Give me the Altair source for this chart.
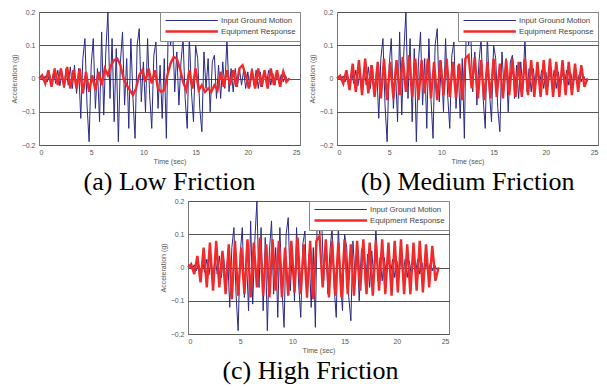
import altair as alt
import numpy as np
import pandas as pd

# ---------------- data ----------------
GROUND_STEP = 0.2
ground = [
    0.000, 0.003, -0.006, 0.008, -0.010, 0.012, -0.018, 0.020, -0.015, 0.025,
    -0.022, 0.018, -0.028, 0.030, -0.020, 0.035, -0.030, 0.040, -0.045, 0.030,
    -0.120, 0.060, 0.120, -0.080, -0.190, 0.040, 0.120, -0.090, 0.030, -0.130,
    0.140, -0.110, 0.080, 0.200, -0.060, 0.120, -0.130, 0.090, -0.190, 0.050,
    0.140, -0.080, 0.060, -0.150, 0.120, -0.060, -0.180, 0.100, 0.150, -0.070,
    0.050, -0.100, 0.120, -0.050, -0.150, 0.070, 0.110, -0.090, 0.040, -0.120,
    0.060, -0.180, 0.200, 0.100, 0.150, -0.040, 0.080, -0.080, 0.050, 0.120,
    -0.060, -0.150, 0.130, -0.040, -0.130, 0.100, 0.060, -0.090, -0.160, 0.080,
    -0.030, 0.060, -0.100, 0.050, 0.070, -0.060, 0.040, -0.060, 0.050, -0.030,
    0.120, -0.040, 0.030, -0.040, 0.030, -0.025, 0.030, -0.020, 0.025, -0.030,
    0.020, -0.025, 0.030, -0.020, 0.025, -0.030, 0.020, -0.025, 0.020, -0.015,
    0.025, -0.020, 0.015, -0.020, 0.015, -0.015, 0.012, -0.010, 0.010, -0.005,
    0.000,
]

RESP_STEP = 0.3
resp_low = [
    0.000, 0.010, -0.015, 0.025, -0.025, 0.030, -0.020, 0.030, -0.025, 0.035,
    -0.030, 0.025, -0.030, 0.030, -0.045, 0.020, -0.040, 0.010, -0.035, 0.020,
    -0.020, 0.030, 0.010, 0.040, 0.055, 0.060, 0.040, 0.000, -0.020, -0.035,
    -0.050, -0.030, 0.010, 0.025, -0.010, 0.030, -0.015, 0.025, -0.030, -0.040,
    -0.035, 0.010, 0.045, 0.065, 0.060, 0.030, -0.010, -0.035, 0.025, -0.030,
    0.030, -0.035, -0.020, -0.040, -0.030, -0.040, -0.020, -0.035, 0.020, -0.025,
    0.025, -0.020, 0.025, -0.025, 0.030, 0.040, 0.010, -0.030, 0.025, -0.030,
    0.030, -0.025, 0.025, -0.030, 0.030, -0.020, 0.025, -0.025, 0.020, -0.010,
    0.000,
]
resp_medium = [
    0.000, 0.008, -0.015, 0.025, -0.035, 0.045, -0.040, 0.055, -0.050, 0.060,
    -0.045, 0.040, -0.055, 0.050, -0.060, 0.060, -0.065, 0.050, -0.060, 0.055,
    -0.050, 0.065, -0.040, 0.070, -0.055, 0.060, -0.065, 0.055, -0.045, 0.060,
    -0.060, 0.050, -0.065, 0.055, -0.050, 0.060, -0.055, 0.050, -0.060, 0.045,
    -0.065, 0.060, 0.070, -0.030, 0.065, -0.060, 0.055, -0.065, 0.050, -0.060,
    0.060, -0.055, 0.045, -0.060, 0.055, -0.050, 0.060, -0.055, 0.050, -0.055,
    0.060, -0.050, 0.055, -0.055, 0.050, -0.055, 0.055, -0.050, 0.060, -0.055,
    0.050, -0.055, 0.055, -0.050, 0.050, -0.050, 0.045, -0.040, 0.040, -0.025,
    0.000,
]
resp_high = [
    0.000, 0.010, -0.020, 0.035, -0.045, 0.060, -0.060, 0.075, -0.070, 0.080,
    -0.060, 0.050, -0.080, 0.070, -0.095, 0.080, -0.085, 0.060, -0.080, 0.085,
    -0.090, 0.075, -0.060, 0.090, -0.085, 0.070, -0.090, 0.085, -0.070, 0.080,
    -0.090, 0.060, -0.085, 0.080, -0.075, 0.090, -0.080, 0.070, -0.090, 0.080,
    -0.095, 0.080, 0.095, -0.060, 0.085, -0.090, 0.080, -0.085, 0.075, -0.090,
    0.085, -0.080, 0.070, -0.085, 0.080, -0.070, 0.085, -0.080, 0.075, -0.085,
    0.080, -0.070, 0.085, -0.080, 0.075, -0.085, 0.080, -0.075, 0.085, -0.080,
    0.070, -0.080, 0.075, -0.070, 0.080, -0.075, 0.070, -0.060, 0.065, -0.040,
    0.000,
]

SERIES = ["Input Ground Motion", "Equipment Response"]
COLORS = ["#2a2a88", "#f02a2a"]
WIDTHS = [1.0, 2.4]
CAPTIONS = ["(a) Low Friction", "(b) Medium Friction", "(c) High Friction"]
X_TICKS = [0, 5, 10, 15, 20, 25]
Y_TICKS = [-0.2, -0.1, 0, 0.1, 0.2]

t_ground = np.round(np.arange(len(ground)) * GROUND_STEP, 3)


def make_df(resp):
    t_resp = np.round(np.arange(len(resp)) * RESP_STEP, 3)
    g = pd.DataFrame({"t": t_ground, "a": ground, "series": SERIES[0]})
    r = pd.DataFrame({"t": t_resp, "a": resp, "series": SERIES[1]})
    return pd.concat([g, r], ignore_index=True)


legend = alt.Legend(
    title=None, orient="top-right", offset=0,
    symbolType="M-1,0H12.1", symbolSize=64,
    labelFontSize=7.8, labelFont="Liberation Sans",
    labelColor="#444", fillColor="white", strokeColor="#888",
    padding=4, rowPadding=1, labelOffset=46,
)


def panel(resp, caption, dx=0, offset=5):
    df = make_df(resp)
    return alt.Chart(df).mark_line(interpolate="linear").encode(
        x=alt.X("t:Q", scale=alt.Scale(domain=[0, 25], nice=False),
                axis=alt.Axis(values=X_TICKS, title="Time (sec)", grid=False,
                              domain=False, ticks=False, labelPadding=3,
                              titlePadding=2)),
        y=alt.Y("a:Q", scale=alt.Scale(domain=[-0.2, 0.2], nice=False),
                axis=alt.Axis(values=Y_TICKS, title="Acceleration (g)",
                              grid=True, gridColor="#555", gridOpacity=1,
                              domain=False, ticks=False, labelPadding=4,
                              titlePadding=4,
                              labelExpr="datum.value == 0 ? '0' : format(datum.value, '.1f')")),
        color=alt.Color("series:N", scale=alt.Scale(domain=SERIES, range=COLORS),
                        legend=legend),
        strokeWidth=alt.StrokeWidth("series:N",
                                    scale=alt.Scale(domain=SERIES, range=WIDTHS),
                                    legend=legend),
    ).properties(
        width=261, height=133,
        title=alt.TitleParams(caption, orient="bottom", font="Liberation Serif",
                              fontSize=26, fontWeight="normal", color="black",
                              offset=offset, dx=dx),
    )


row = alt.hconcat(
    panel(resp_low, CAPTIONS[0]),
    panel(resp_medium, CAPTIONS[1]),
    spacing=6,
).resolve_scale(color="independent", strokeWidth="independent")

chart = alt.vconcat(
    row,
    panel(resp_high, CAPTIONS[2], dx=-8, offset=5),
    spacing=0, center=True,
).resolve_scale(color="independent", strokeWidth="independent").configure(
    padding={"left": 1, "top": -1, "right": 0, "bottom": 0},
    background="white",
).configure_view(
    stroke="#777", strokeWidth=1,
).configure_axis(
    labelFont="Liberation Sans", labelFontSize=7, labelColor="#555",
    titleFont="Liberation Sans", titleFontSize=7, titleFontWeight="normal",
    titleColor="#555",
)

chart.save("out.html", embed_options={"renderer": "svg", "actions": False})
